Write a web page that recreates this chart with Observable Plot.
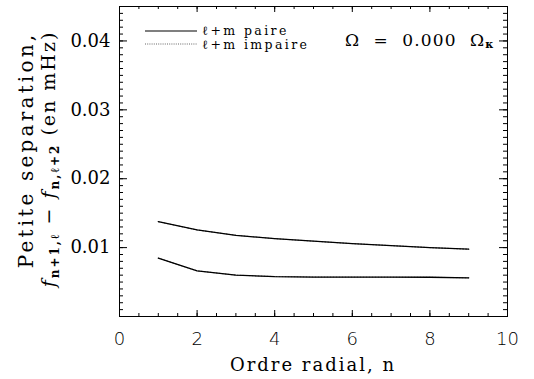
<!DOCTYPE html>
<html><head><meta charset="utf-8">
<script src="https://cdn.jsdelivr.net/npm/d3@7"></script>
<script src="https://cdn.jsdelivr.net/npm/@observablehq/plot@0.6"></script>
<style>body{margin:0;background:#fff} #chart{width:534px;height:379px}</style>
</head><body><div id="chart"></div>
<script>
// ---- data ----
const ordre = [1, 2, 3, 4, 5, 6, 7, 8, 9];
const paireL0 = [0.01376, 0.01256, 0.01179, 0.01130, 0.01093, 0.01058, 0.01029, 0.01000, 0.00977];
const paireL1 = [0.00847, 0.00663, 0.00600, 0.00580, 0.00573, 0.00572, 0.00571, 0.00570, 0.00561];
const impaireL0 = [0.01376, 0.01256, 0.01179, 0.01130, 0.01093, 0.01058, 0.01029, 0.01000, 0.00977];
const impaireL1 = [0.00847, 0.00663, 0.00600, 0.00580, 0.00573, 0.00572, 0.00571, 0.00570, 0.00561];
const xTicks = [0, 2, 4, 6, 8, 10];
const xTickLabels = ["0", "2", "4", "6", "8", "10"];
const yTicks = [0.01, 0.02, 0.03, 0.04];
const yTickLabels = ["0.01", "0.02", "0.03", "0.04"];
const legendLabels = ["\u2113+m paire", "\u2113+m impaire"];

const rows = [];
function add(vals, serie, parite) { ordre.forEach((n, i) => rows.push({n, v: vals[i], serie, parite})); }
add(impaireL0, "l0", "impaire"); add(impaireL1, "l1", "impaire");
add(paireL0, "l0", "paire"); add(paireL1, "l1", "paire");

const W = 534, H = 379, mL = 119, mR = 27, mT = 6, mB = 63;
const iw = W - mL - mR, ih = H - mT - mB;
const xMinor = d3.range(0, 10.001, 0.5);
const yMinor = d3.range(0.001, 0.0451, 0.001);
const serif = "DejaVu Serif";

const chart = Plot.plot({
  width: W, height: H, marginLeft: mL, marginRight: mR, marginTop: mT, marginBottom: mB,
  style: {fontFamily: serif, fontSize: "18px", background: "#fff", color: "#000"},
  x: {domain: [0, 10]},
  y: {domain: [0, 0.045]},
  marks: [
    Plot.tickY(yMinor, {y: d => d, insetRight: iw - 4, stroke: "#000"}),
    Plot.tickY(yMinor, {y: d => d, insetLeft: iw - 4, stroke: "#000"}),
    Plot.tickY(yTicks, {y: d => d, insetRight: iw - 8, stroke: "#000"}),
    Plot.tickY(yTicks, {y: d => d, insetLeft: iw - 8, stroke: "#000"}),
    Plot.tickX(xMinor, {x: d => d, insetTop: ih - 3, stroke: "#000"}),
    Plot.tickX(xMinor, {x: d => d, insetBottom: ih - 3, stroke: "#000"}),
    Plot.tickX(xTicks, {x: d => d, insetTop: ih - 6, stroke: "#000"}),
    Plot.tickX(xTicks, {x: d => d, insetBottom: ih - 6, stroke: "#000"}),
    Plot.frame({stroke: "#000"}),
    Plot.axisX(xTicks, {tickSize: 0, tickPadding: 16, tickFormat: (d, i) => xTickLabels[i], fontFamily: "DejaVu Sans", fontWeight: 200, fontSize: 18, label: null}),
    Plot.axisY(yTicks, {tickSize: 0, tickPadding: 9, tickFormat: (d, i) => yTickLabels[i], fontFamily: serif, fontSize: 18, label: null}),
    Plot.line(rows.filter(d => d.parite === "impaire"), {x: "n", y: "v", z: "serie", stroke: "#555", strokeWidth: 1, strokeDasharray: "1,2"}),
    Plot.line(rows.filter(d => d.parite === "paire"), {x: "n", y: "v", z: "serie", stroke: "#000", strokeWidth: 1.3})
  ]
});
document.getElementById("chart").appendChild(chart);

// ---- annotations ----
const svg = d3.select(chart);
const g = svg.append("g").attr("font-family", serif).attr("fill", "#000").attr("text-anchor", "start");

// legend
g.append("line").attr("x1", 145).attr("x2", 197).attr("y1", 31).attr("y2", 31).attr("stroke", "#000").attr("stroke-width", 1.2);
g.append("line").attr("x1", 145).attr("x2", 197).attr("y1", 44).attr("y2", 44).attr("stroke", "#666").attr("stroke-width", 1).attr("stroke-dasharray", "1,1.2");
g.append("text").attr("x", 202).attr("y", 34.5).attr("font-size", 12.5).attr("letter-spacing", 2.4).text(legendLabels[0]);
g.append("text").attr("x", 202).attr("y", 48.5).attr("font-size", 12.5).attr("letter-spacing", 2.4).text(legendLabels[1]);

// omega annotation
const om = g.append("text").attr("x", 345).attr("y", 46).attr("font-size", 17).attr("letter-spacing", 1.2).style("white-space", "pre");
om.append("tspan").text("\u03A9  =  0.000  \u03A9");
om.append("tspan").attr("font-size", 11).attr("font-weight", "bold").attr("dy", 2).text("\u03BA");

// x label
g.append("text").attr("x", mL + iw / 2).attr("y", 371).attr("text-anchor", "middle").attr("font-size", 18).attr("letter-spacing", 2).text("Ordre radial, n");

// y label (two lines)
g.append("text").attr("transform", `translate(33,150) rotate(-90)`).attr("text-anchor", "middle").attr("font-size", 20).attr("letter-spacing", 3.2).text("Petite separation,");
const t2 = g.append("text").attr("transform", `translate(55,159) rotate(-90)`).attr("text-anchor", "middle").attr("font-size", 19).attr("letter-spacing", 2).style("white-space", "pre");
t2.append("tspan").attr("font-style", "italic").text("f");
t2.append("tspan").attr("font-size", 12).attr("font-weight", "bold").attr("dy", 4).text("n+1,\u2113");
t2.append("tspan").attr("dy", -4).text(" \u2212 ");
t2.append("tspan").attr("font-style", "italic").text("f");
t2.append("tspan").attr("font-size", 12).attr("font-weight", "bold").attr("dy", 4).text("n,\u2113+2");
t2.append("tspan").attr("dy", -4).text(" (en mHz)");
</script>
</body></html>
